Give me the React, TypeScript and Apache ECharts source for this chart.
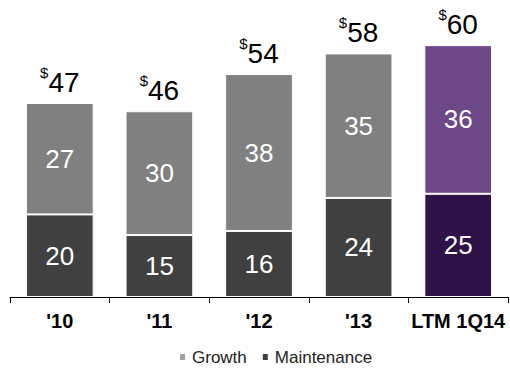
import React, { useEffect, useRef } from "react";
import * as echarts from "echarts";

const categories = ["'10", "'11", "'12", "'13", "LTM 1Q14"];
const maintenance = [20, 15, 16, 24, 25];
const growth = [27, 30, 38, 35, 36];
const totals = [47, 46, 54, 58, 60];

const FONT = "Liberation Sans, Arial, sans-serif";
const LEGEND_ICON = "path://M0,2H7V10H0Z M8,3H9V11H8Z";

export default function App() {
  const ref = useRef<HTMLDivElement>(null);
  useEffect(() => {
    if (!ref.current) return;
    const chart = echarts.init(ref.current, undefined, { renderer: "svg" });
    const last = categories.length - 1;
    chart.setOption({
      animation: false,
      textStyle: { fontFamily: FONT },
      grid: { left: 10, right: 2, top: 8, bottom: 75 },
      legend: {
        data: [
          { name: "Growth", itemStyle: { color: "#a0a0a0" } },
          { name: "Maintenance", itemStyle: { color: "#404040" } },
        ],
        top: 349,
        left: 178,
        icon: LEGEND_ICON,
        itemWidth: 9,
        itemHeight: 11,
        itemGap: 14,
        padding: 0,
        textStyle: { fontSize: 17, color: "#222", fontFamily: FONT, padding: [0, 0, 0, -1] },
      },
      xAxis: {
        type: "category",
        data: categories,
        axisLine: { lineStyle: { color: "#000", width: 1 } },
        axisTick: { show: true, length: 6, lineStyle: { color: "#000" } },
        axisLabel: { fontSize: 20, fontWeight: "bold", color: "#000", margin: 14, fontFamily: FONT, interval: 0 },
      },
      yAxis: { type: "value", min: 0, max: 70, show: false, splitLine: { show: false } },
      series: [
        {
          name: "Maintenance",
          type: "bar",
          stack: "t",
          barWidth: "68%",
          data: maintenance.map((v, i) => ({
            value: v,
            itemStyle: { color: i === last ? "#2f1248" : "#404040" },
          })),
          itemStyle: { borderColor: "#fff", borderWidth: 1 },
          label: { show: true, position: "inside", color: "#fff", fontSize: 26, fontFamily: FONT },
        },
        {
          name: "Growth",
          type: "bar",
          stack: "t",
          data: growth.map((v, i) => ({
            value: v,
            itemStyle: { color: i === last ? "#6c4889" : "#808080" },
          })),
          itemStyle: { borderColor: "#fff", borderWidth: 1 },
          label: { show: true, position: "inside", color: "#fff", fontSize: 26, fontFamily: FONT },
        },
        {
          name: "Total",
          type: "bar",
          stack: "t",
          data: totals.map(() => 0),
          itemStyle: { color: "transparent" },
          label: {
            show: true,
            position: "top",
            distance: 3,
            formatter: (p: any) => `{s|$}{n|${totals[p.dataIndex]}}`,
            rich: {
              s: { fontSize: 15, color: "#000", padding: [0, 0, 20, 0], fontFamily: FONT },
              n: { fontSize: 28, color: "#000", fontFamily: FONT },
            },
          },
        },
      ],
    });
    return () => chart.dispose();
  }, []);
  return (
    <div
      ref={ref}
      style={{ position: "absolute", left: 0, top: 0, width: 510, height: 372 }}
    />
  );
}
